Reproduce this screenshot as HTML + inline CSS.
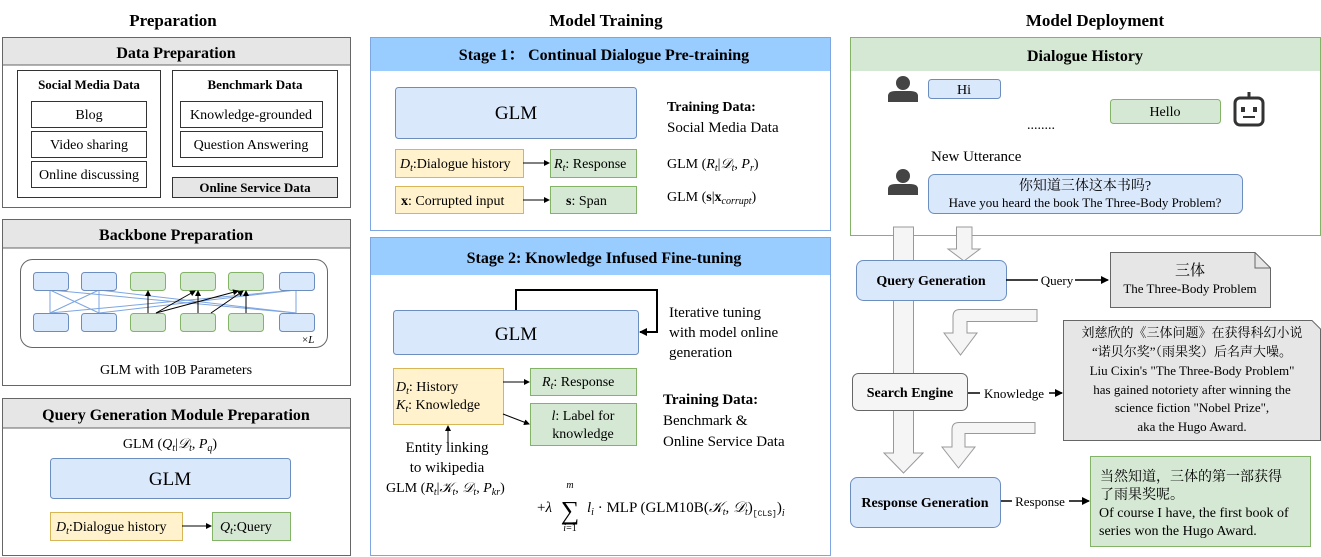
<!DOCTYPE html>
<html><head><meta charset="utf-8"><style>
body{margin:0;background:#fff}
svg{display:block;font-family:"Liberation Serif","Noto Serif CJK SC","Noto Sans CJK SC",serif}
</style></head><body>
<svg width="1321" height="557" viewBox="0 0 1321 557" xmlns="http://www.w3.org/2000/svg">
<defs>
<marker id="a" markerWidth="8" markerHeight="8" refX="7" refY="4" orient="auto" markerUnits="userSpaceOnUse"><path d="M0,0L8,4L0,8z" fill="#000"/></marker>
<marker id="s" markerWidth="6" markerHeight="6" refX="5" refY="3" orient="auto" markerUnits="userSpaceOnUse"><path d="M0,0L6,3L0,6z" fill="#000"/></marker>
</defs>
<g font-weight="bold" font-size="17" text-anchor="middle">
<text x="173" y="26">Preparation</text>
<text x="606" y="26">Model Training</text>
<text x="1095" y="26">Model Deployment</text>
</g>
<!-- Data Preparation -->
<rect x="2.5" y="37.5" width="348" height="170" fill="#fff" stroke="#666"/>
<rect x="3" y="38" width="347" height="27" fill="#e6e6e6"/>
<line x1="3" y1="65" x2="350" y2="65" stroke="#666"/>
<text x="176" y="58" font-size="16" font-weight="bold" text-anchor="middle">Data Preparation</text>
<rect x="17.5" y="70.5" width="143" height="127" fill="#fff" stroke="#333"/>
<text x="89" y="89" font-size="13" font-weight="bold" text-anchor="middle">Social Media Data</text>
<g fill="#fff" stroke="#333"><rect x="31.5" y="101.5" width="115" height="26"/><rect x="31.5" y="131.5" width="115" height="26"/><rect x="31.5" y="161.5" width="115" height="26"/>
<rect x="172.5" y="70.5" width="165" height="96"/><rect x="180.5" y="101.5" width="142" height="26"/><rect x="180.5" y="131.5" width="142" height="26"/></g>
<rect x="172.5" y="177.5" width="165" height="20" fill="#e6e6e6" stroke="#333"/>
<g font-size="14" text-anchor="middle"><text x="89" y="119">Blog</text><text x="89" y="149">Video sharing</text><text x="89" y="179">Online discussing</text>
<text x="251" y="119">Knowledge-grounded</text><text x="251" y="149">Question Answering</text></g>
<text x="255" y="89" font-size="13" font-weight="bold" text-anchor="middle">Benchmark Data</text>
<text x="255" y="192" font-size="13" font-weight="bold" text-anchor="middle">Online Service Data</text>
<!-- Backbone -->
<rect x="2.5" y="219.5" width="348" height="166" fill="#fff" stroke="#666"/>
<rect x="3" y="220" width="347" height="28" fill="#e6e6e6"/>
<line x1="3" y1="248" x2="350" y2="248" stroke="#666"/>
<text x="176" y="240" font-size="16" font-weight="bold" text-anchor="middle">Backbone Preparation</text>
<rect x="20.5" y="259.5" width="307" height="88" rx="12" fill="#fff" stroke="#666"/>
<g stroke="#7ea6e0" stroke-width="1" fill="none">
<line x1="50" y1="290" x2="50" y2="313"/><line x1="99" y1="290" x2="99" y2="313"/><line x1="296" y1="290" x2="296" y2="313"/>
<line x1="50" y1="290" x2="99" y2="313"/><line x1="99" y1="290" x2="50" y2="313"/>
<line x1="50" y1="290" x2="296" y2="313"/><line x1="99" y1="290" x2="296" y2="313"/>
<line x1="296" y1="290" x2="50" y2="313"/><line x1="296" y1="290" x2="99" y2="313"/>
</g>
<g stroke="#6c8ebf" fill="#dae8fc"><rect x="33.5" y="272.5" width="35" height="18" rx="3"/><rect x="81.5" y="272.5" width="35" height="18" rx="3"/><rect x="279.5" y="272.5" width="35" height="18" rx="3"/>
<rect x="33.5" y="313.5" width="35" height="18" rx="3"/><rect x="81.5" y="313.5" width="35" height="18" rx="3"/><rect x="279.5" y="313.5" width="35" height="18" rx="3"/></g>
<g stroke="#82b366" fill="#d5e8d4"><rect x="130.5" y="272.5" width="35" height="18" rx="3"/><rect x="180.5" y="272.5" width="35" height="18" rx="3"/><rect x="228.5" y="272.5" width="35" height="18" rx="3"/>
<rect x="130.5" y="313.5" width="35" height="18" rx="3"/><rect x="180.5" y="313.5" width="35" height="18" rx="3"/><rect x="228.5" y="313.5" width="35" height="18" rx="3"/></g>
<g stroke="#000" stroke-width="1" marker-end="url(#s)">
<line x1="148" y1="313" x2="148" y2="291"/><line x1="156" y1="313" x2="195" y2="291"/><line x1="156" y1="313" x2="238" y2="291"/>
<line x1="198" y1="313" x2="198" y2="291"/><line x1="211" y1="313" x2="243" y2="291"/><line x1="246" y1="313" x2="246" y2="291"/></g>
<text x="302" y="343" font-size="11"><tspan>×</tspan><tspan font-style="italic">L</tspan></text>
<text x="176" y="374" font-size="14" text-anchor="middle">GLM with 10B Parameters</text>
<!-- Query gen prep -->
<rect x="2.5" y="398.5" width="348" height="157" fill="#fff" stroke="#666"/>
<rect x="3" y="399" width="347" height="29" fill="#e6e6e6"/>
<line x1="3" y1="428" x2="350" y2="428" stroke="#666"/>
<text x="176" y="420" font-size="16" font-weight="bold" text-anchor="middle">Query Generation Module Preparation</text>
<text x="170" y="448" font-size="14" text-anchor="middle">GLM (<tspan font-style="italic">Q</tspan><tspan font-size="10" dy="3" font-style="italic">t</tspan><tspan dy="-3">|</tspan><tspan font-style="italic">𝒟</tspan><tspan font-size="10" dy="3" font-style="italic">t</tspan><tspan dy="-3">, </tspan><tspan font-style="italic">P</tspan><tspan font-size="10" dy="3" font-style="italic">q</tspan><tspan dy="-3">)</tspan></text>
<rect x="50.5" y="458.5" width="240" height="40" rx="3" fill="#dae8fc" stroke="#6c8ebf"/>
<text x="170" y="485" font-size="19" text-anchor="middle">GLM</text>
<rect x="50.5" y="512.5" width="132" height="28" fill="#fff2cc" stroke="#d6b656"/>
<rect x="212.5" y="512.5" width="78" height="28" fill="#d5e8d4" stroke="#82b366"/>
<line x1="182" y1="526" x2="211" y2="526" stroke="#000" marker-end="url(#s)"/>
<text x="56" y="531" font-size="14"><tspan font-style="italic">D</tspan><tspan font-size="10" dy="3" font-style="italic">t</tspan><tspan dy="-3">:Dialogue history</tspan></text>
<text x="220" y="531" font-size="14"><tspan font-style="italic">Q</tspan><tspan font-size="10" dy="3" font-style="italic">t</tspan><tspan dy="-3">:Query</tspan></text>
<!-- Stage 1 -->
<rect x="370.5" y="37.5" width="460" height="193" fill="#fff" stroke="#7ea6e0"/>
<rect x="371" y="38" width="459" height="33" fill="#99ccff"/>
<text x="604" y="60" font-size="16" font-weight="bold" text-anchor="middle">Stage 1： Continual Dialogue Pre-training</text>
<rect x="395.5" y="87.5" width="241" height="51" rx="3" fill="#dae8fc" stroke="#6c8ebf"/>
<text x="516" y="119" font-size="19" text-anchor="middle">GLM</text>
<text x="667" y="111" font-size="14" font-weight="bold">Training Data:</text>
<text x="667" y="132" font-size="15">Social Media Data</text>
<rect x="395.5" y="149.5" width="128" height="28" fill="#fff2cc" stroke="#d6b656"/>
<rect x="550.5" y="149.5" width="86" height="28" fill="#d5e8d4" stroke="#82b366"/>
<rect x="395.5" y="186.5" width="128" height="27" fill="#fff2cc" stroke="#d6b656"/>
<rect x="550.5" y="186.5" width="86" height="27" fill="#d5e8d4" stroke="#82b366"/>
<line x1="523" y1="163" x2="549" y2="163" stroke="#000" marker-end="url(#s)"/>
<line x1="523" y1="200" x2="549" y2="200" stroke="#000" marker-end="url(#s)"/>
<g font-size="14">
<text x="400" y="168"><tspan font-style="italic">D</tspan><tspan font-size="10" dy="3" font-style="italic">t</tspan><tspan dy="-3">:Dialogue history</tspan></text>
<text x="554" y="168"><tspan font-style="italic">R</tspan><tspan font-size="10" dy="3" font-style="italic">t</tspan><tspan dy="-3">: Response</tspan></text>
<text x="401" y="205"><tspan font-weight="bold">x</tspan>: Corrupted input</text>
<text x="566" y="205"><tspan font-weight="bold">s</tspan>: Span</text>
<text x="667" y="168">GLM (<tspan font-style="italic">R</tspan><tspan font-size="10" dy="3" font-style="italic">t</tspan><tspan dy="-3">|</tspan><tspan font-style="italic">𝒟</tspan><tspan font-size="10" dy="3" font-style="italic">t</tspan><tspan dy="-3">, </tspan><tspan font-style="italic">P</tspan><tspan font-size="10" dy="3" font-style="italic">r</tspan><tspan dy="-3">)</tspan></text>
<text x="667" y="201">GLM (<tspan font-weight="bold">s</tspan>|<tspan font-weight="bold">x</tspan><tspan font-size="10" dy="3" font-style="italic">corrupt</tspan><tspan dy="-3">)</tspan></text>
</g>
<!-- Stage 2 -->
<rect x="370.5" y="237.5" width="460" height="318" fill="#fff" stroke="#7ea6e0"/>
<rect x="371" y="238" width="459" height="37" fill="#99ccff"/>
<text x="604" y="263" font-size="16" font-weight="bold" text-anchor="middle">Stage 2: Knowledge Infused Fine-tuning</text>
<rect x="393.5" y="310.5" width="245" height="44" rx="3" fill="#dae8fc" stroke="#6c8ebf"/>
<text x="516" y="340" font-size="19" text-anchor="middle">GLM</text>
<path d="M516,310V290H657V332H640" fill="none" stroke="#000" stroke-width="2" marker-end="url(#a)"/>
<g font-size="15"><text x="669" y="317">Iterative tuning</text><text x="669" y="337">with model online</text><text x="669" y="357">generation</text></g>
<rect x="393.5" y="368.5" width="110" height="56" fill="#fff2cc" stroke="#d6b656"/>
<rect x="530.5" y="368.5" width="106" height="27" fill="#d5e8d4" stroke="#82b366"/>
<rect x="530.5" y="403.5" width="106" height="42" fill="#d5e8d4" stroke="#82b366"/>
<line x1="503" y1="382" x2="529" y2="382" stroke="#000" marker-end="url(#s)"/>
<line x1="503" y1="414" x2="529" y2="424" stroke="#000" marker-end="url(#s)"/>
<line x1="448" y1="445" x2="448" y2="426" stroke="#000" marker-end="url(#s)"/>
<g font-size="14">
<text x="396" y="391"><tspan font-style="italic">D</tspan><tspan font-size="10" dy="3" font-style="italic">t</tspan><tspan dy="-3">: History</tspan></text>
<text x="396" y="409"><tspan font-style="italic">K</tspan><tspan font-size="10" dy="3" font-style="italic">t</tspan><tspan dy="-3">: Knowledge</tspan></text>
<text x="542" y="386"><tspan font-style="italic">R</tspan><tspan font-size="10" dy="3" font-style="italic">t</tspan><tspan dy="-3">: Response</tspan></text>
<text x="583" y="420" text-anchor="middle"><tspan font-style="italic">l</tspan>: Label for</text>
<text x="583" y="438" text-anchor="middle">knowledge</text>
</g>
<text x="663" y="404" font-size="15" font-weight="bold">Training Data:</text>
<text x="663" y="425" font-size="15">Benchmark &amp;</text>
<text x="663" y="446" font-size="15">Online Service Data</text>
<text x="447" y="452" font-size="15" text-anchor="middle">Entity linking</text>
<text x="447" y="472" font-size="15" text-anchor="middle">to wikipedia</text>
<text x="386" y="492" font-size="14">GLM (<tspan font-style="italic">R</tspan><tspan font-size="10" dy="3" font-style="italic">t</tspan><tspan dy="-3">|</tspan><tspan font-style="italic">𝒦</tspan><tspan font-size="10" dy="3" font-style="italic">t</tspan><tspan dy="-3">, </tspan><tspan font-style="italic">𝒟</tspan><tspan font-size="10" dy="3" font-style="italic">t</tspan><tspan dy="-3">, </tspan><tspan font-style="italic">P</tspan><tspan font-size="10" dy="3" font-style="italic">kr</tspan><tspan dy="-3">)</tspan></text>
<text x="570" y="488" font-size="10" font-style="italic" text-anchor="middle">m</text>
<text x="570" y="519" font-size="26" text-anchor="middle">∑</text>
<text x="570" y="531" font-size="10" text-anchor="middle"><tspan font-style="italic">i</tspan>=1</text>
<text x="537" y="512" font-size="15">+<tspan font-style="italic">λ</tspan></text>
<text x="587" y="512" font-size="15"><tspan font-style="italic">l</tspan><tspan font-size="10" dy="3" font-style="italic">i</tspan><tspan dy="-3"> · MLP (GLM10B(</tspan><tspan font-style="italic">𝒦</tspan><tspan font-size="10" dy="3" font-style="italic">t</tspan><tspan dy="-3">, </tspan><tspan font-style="italic">𝒟</tspan><tspan font-size="10" dy="3" font-style="italic">t</tspan><tspan dy="-3">)</tspan><tspan font-size="8" dy="4" font-family="Liberation Mono">[CLS]</tspan><tspan dy="-4">)</tspan><tspan font-size="10" dy="4" font-style="italic">i</tspan></text>
<!-- Deployment -->
<rect x="850.5" y="37.5" width="470" height="198" fill="#fff" stroke="#82b366"/>
<rect x="851" y="38" width="469" height="33" fill="#d5e8d4"/>
<text x="1085" y="61" font-size="16" font-weight="bold" text-anchor="middle">Dialogue History</text>
<g fill="#444">
<circle cx="903" cy="83" r="7"/><path d="M888,102V96Q888,91 896,91H910Q918,91 918,96V102z"/>
<circle cx="903" cy="176" r="7"/><path d="M888,195V189Q888,184 896,184H910Q918,184 918,189V195z"/>
</g>
<rect x="1235" y="98" width="28" height="27" rx="5" fill="none" stroke="#333" stroke-width="3"/>
<line x1="1249" y1="98" x2="1249" y2="92" stroke="#333" stroke-width="3"/>
<rect x="1241" y="107" width="4" height="5" fill="#333"/><rect x="1253" y="107" width="4" height="5" fill="#333"/>
<line x1="1243" y1="117" x2="1255" y2="117" stroke="#333" stroke-width="2"/>
<rect x="928.5" y="79.5" width="72" height="19" rx="3" fill="#dae8fc" stroke="#6c8ebf"/>
<text x="964" y="94" font-size="14" text-anchor="middle">Hi</text>
<text x="1041" y="129" font-size="14" text-anchor="middle">........</text>
<rect x="1110.5" y="99.5" width="110" height="24" rx="3" fill="#d5e8d4" stroke="#82b366"/>
<text x="1165" y="116" font-size="14" text-anchor="middle">Hello</text>
<text x="931" y="161" font-size="15">New Utterance</text>
<rect x="928.5" y="174.5" width="314" height="39" rx="6" fill="#dae8fc" stroke="#6c8ebf"/>
<text x="1085" y="190" font-size="14" text-anchor="middle">你知道三体这本书吗?</text>
<text x="1085" y="207" font-size="13" text-anchor="middle">Have you heard the book The Three-Body Problem?</text>
<g fill="#f5f5f5" stroke="#999">
<path d="M893.5,227V453H884L903.5,473L923,453H913.5V227z"/>
<path d="M956.5,227V249H948L964,261L980,249H972V227z"/>
<path d="M1037,309.5H960Q953,309.5 953,316.5V333H944L960.5,355L977,333H967V321.5H1037z"/>
<path d="M1035,422.5H959Q952,422.5 952,429.5V447H942L958.5,468L975,447H965V433.5H1035z"/>
</g>
<rect x="856.5" y="260.5" width="150" height="40" rx="7" fill="#dae8fc" stroke="#6c8ebf"/>
<text x="931" y="285" font-size="14" font-weight="bold" text-anchor="middle">Query Generation</text>
<line x1="1006" y1="280" x2="1108" y2="280" stroke="#000" stroke-width="1.5" marker-end="url(#a)"/>
<rect x="1038" y="272" width="37" height="14" fill="#fff"/>
<text x="1057" y="285" font-size="13" text-anchor="middle">Query</text>
<path d="M1110.5,252.5H1255L1270.5,268V307.5H1110.5z" fill="#e6e6e6" stroke="#666"/>
<path d="M1255,252.5V268H1270.5" fill="none" stroke="#666"/>
<text x="1190" y="275" font-size="15" text-anchor="middle">三体</text>
<text x="1190" y="293" font-size="13" text-anchor="middle">The Three-Body Problem</text>
<rect x="852.5" y="373.5" width="115" height="37" rx="6" fill="#f5f5f5" stroke="#666"/>
<text x="910" y="397" font-size="14" font-weight="bold" text-anchor="middle">Search Engine</text>
<line x1="968" y1="393" x2="1062" y2="393" stroke="#000" stroke-width="1.5" marker-end="url(#a)"/>
<rect x="980" y="385" width="69" height="14" fill="#fff"/>
<text x="1014" y="398" font-size="13" text-anchor="middle">Knowledge</text>
<path d="M1063.5,320.5H1312L1320.5,329V440.5H1063.5z" fill="#e6e6e6" stroke="#666"/>
<g font-size="13" text-anchor="middle">
<text x="1192" y="337">刘慈欣的《三体问题》在获得科幻小说</text>
<text x="1192" y="356">“诺贝尔奖”（雨果奖）后名声大噪。</text>
<text x="1192" y="375">Liu Cixin's "The Three-Body Problem"</text>
<text x="1192" y="394">has gained notoriety after winning the</text>
<text x="1192" y="412">science fiction "Nobel Prize",</text>
<text x="1192" y="431">aka the Hugo Award.</text>
</g>
<rect x="850.5" y="477.5" width="150" height="50" rx="7" fill="#dae8fc" stroke="#6c8ebf"/>
<text x="925" y="507" font-size="14" font-weight="bold" text-anchor="middle">Response Generation</text>
<line x1="1001" y1="501" x2="1089" y2="501" stroke="#000" stroke-width="1.5" marker-end="url(#a)"/>
<rect x="1012" y="494" width="57" height="14" fill="#fff"/>
<text x="1040" y="506" font-size="13" text-anchor="middle">Response</text>
<rect x="1090.5" y="456.5" width="220" height="90" fill="#d5e8d4" stroke="#82b366"/>
<g font-size="14">
<text x="1100" y="481">当然知道，三体的第一部获得</text>
<text x="1100" y="499">了雨果奖呢。</text>
<text x="1099" y="517">Of course I have, the first book of</text>
<text x="1099" y="535">series won the Hugo Award.</text>
</g>
</svg>
</body></html>
